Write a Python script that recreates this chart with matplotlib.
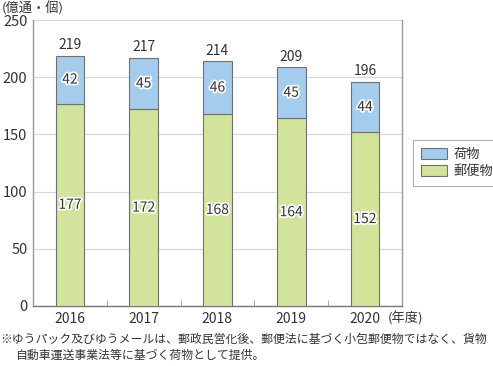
import matplotlib.pyplot as plt
import matplotlib.patheffects as pe
import numpy as np

plt.rcParams['font.family'] = ['Noto Sans CJK JP', 'DejaVu Sans']

years = ['2016', '2017', '2018', '2019', '2020']
mail = [177, 172, 168, 164, 152]     # 郵便物
parcels = [42, 45, 46, 45, 44]       # 荷物
totals = [219, 217, 214, 209, 196]

c_parcel = '#a4cced'
c_mail = '#d2e39c'
c_edge = '#707070'
c_text = '#333333'

fig = plt.figure(figsize=(4.93, 3.66), dpi=100)
ax = fig.add_axes([0.067, 0.164, 0.748, 0.781])

x = np.arange(len(years))
w = 0.39
b1 = ax.bar(x, mail, w, color=c_mail, edgecolor=c_edge, linewidth=0.8, label='郵便物', zorder=3)
b2 = ax.bar(x, parcels, w, bottom=mail, color=c_parcel, edgecolor=c_edge, linewidth=0.8, label='荷物', zorder=3)

halo = [pe.withStroke(linewidth=2.5, foreground='white')]
for i in range(len(years)):
    ax.text(x[i], mail[i] / 2, str(mail[i]), ha='center', va='center', fontsize=10,
            color=c_text, path_effects=halo, zorder=4)
    ax.text(x[i], mail[i] + parcels[i] / 2, str(parcels[i]), ha='center', va='center',
            fontsize=10, color=c_text, path_effects=halo, zorder=4)
    ax.text(x[i], totals[i] + 3, str(totals[i]), ha='center', va='bottom', fontsize=10,
            color=c_text, zorder=4)

ax.set_xlim(-0.5, len(years) - 0.5)
ax.set_ylim(0, 250)
ax.set_yticks(np.arange(0, 251, 50))
ax.set_xticks(x)
ax.set_xticklabels(years)
ax.set_xticks(np.arange(0.5, len(years) - 1, 1), minor=True)
ax.tick_params(axis='x', which='major', length=0, pad=4, labelsize=10, labelcolor=c_text)
ax.tick_params(axis='x', which='minor', direction='in', length=4, color='#999999')
ax.tick_params(axis='y', length=0, pad=4, labelsize=10.5, labelcolor=c_text)
ax.grid(axis='y', color='#d9d9d9', linewidth=0.9, zorder=0)

for s in ['left', 'right', 'bottom']:
    ax.spines[s].set_color('#999999')
    ax.spines[s].set_linewidth(1.0)
ax.spines['bottom'].set_color('#777777')
ax.spines['top'].set_visible(False)

# 凡例（荷物が上）
leg = ax.legend(handles=[b2, b1], labels=['荷物', '郵便物'], loc='center left',
                bbox_to_anchor=(1.03, 0.50), fontsize=9.5, frameon=True, fancybox=False,
                edgecolor='#999999', handlelength=2.0, handleheight=0.9,
                handletextpad=0.5, borderpad=0.6, labelspacing=0.35, borderaxespad=0)
leg.get_frame().set_linewidth(0.8)
for t in leg.get_texts():
    t.set_color(c_text)

fig.text(0.004, 0.978, '(億通・個)', fontsize=9.5, color=c_text, ha='left', va='center')
fig.text(0.787, 0.131, '(年度)', fontsize=9.5, color=c_text, ha='left', va='center')
fig.text(0.0, 0.072, '※ゆうパック及びゆうメールは、郵政民営化後、郵便法に基づく小包郵便物ではなく、貨物',
         fontsize=8.55, color=c_text, ha='left', va='center')
fig.text(0.031, 0.028, '自動車運送事業法等に基づく荷物として提供。',
         fontsize=8.55, color=c_text, ha='left', va='center')

fig.savefig('out.png', dpi=100)
